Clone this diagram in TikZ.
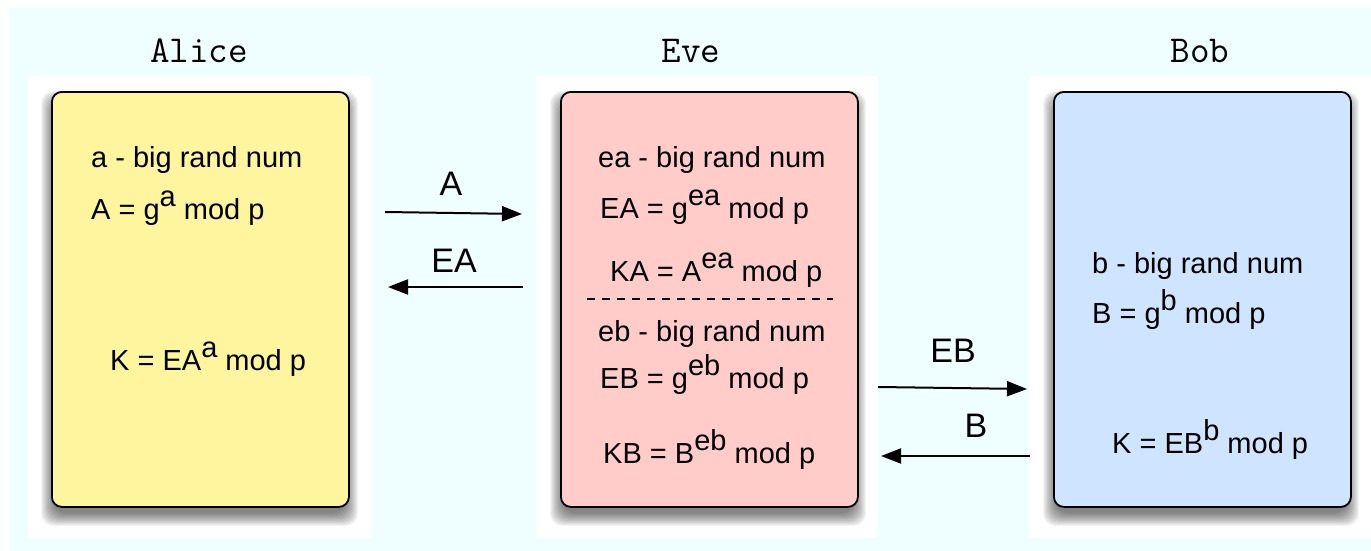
\documentclass[tikz,border=0pt]{standalone}
\usepackage{fontspec}
\setmainfont{Liberation Sans}
\usetikzlibrary{arrows.meta}
\definecolor{bgcyan}{HTML}{EFFFFF}
\definecolor{alicey}{HTML}{FEF59E}
\definecolor{evep}{HTML}{FFCCCA}
\definecolor{bobb}{HTML}{CFE4FE}
\newcommand\ex[1]{\raisebox{13pt}{#1}}
\newcommand\boxshadow[4]{%
  \foreach \e in {1,...,14}{%
    \fill[black, opacity=0.045, rounded corners=12pt]
      ({#1+4-\e},{#2+14-\e}) rectangle ({#3-4+\e},{#4+6+\e});
  }%
}
\begin{document}
\begin{tikzpicture}[x=1pt,y=-1pt,
  party/.style={draw=black, line width=1.8pt, rounded corners=10pt,
    minimum width=297pt, minimum height=415pt, anchor=north west, inner sep=0pt},
  title/.style={font=\ttfamily\fontsize{38}{42}\selectfont, anchor=base, inner sep=0pt},
  txt/.style={font=\fontsize{29}{34}\selectfont, anchor=base west, inner sep=0pt},
  lbl/.style={font=\fontsize{34}{40}\selectfont, anchor=base, inner sep=0pt},
  msg/.style={line width=2pt, -{Triangle[length=20pt,width=15pt]}},
  split/.style={line width=1.6pt, dash pattern=on 8pt off 7pt},
]
\useasboundingbox (0,0) rectangle (1371,551);
\fill[white] (0,0) rectangle (1371,551);
\fill[bgcyan] (9,8) rectangle (1371,551);
\fill[white] (28,76) rectangle (371,538);
\fill[white] (536,76) rectangle (878,538);
\fill[white] (1029,76) rectangle (1371,538);

\boxshadow{51}{91}{348}{506}
\boxshadow{560}{91}{856}{506}
\boxshadow{1053}{91}{1349}{506}

\node[party, fill=alicey] (alice) at (51,91) {};
\node[party, fill=evep] (eve) at (560,91) {};
\node[party, fill=bobb] (bob) at (1053,91) {};

\node[title] (talice) at (199,63) {Alice};
\node[title] (teve) at (691,63) {Eve};
\node[title] (tbob) at (1200,63) {Bob};

% Alice
\node[txt] (a1) at (91,167) {a - big rand num};
\node[txt] (a2) at (91,219) {A = g\ex{a} mod p};
\node[txt] (a3) at (110,370) {K = EA\ex{a} mod p};

% Eve
\node[txt] (e1) at (598,167) {ea - big rand num};
\node[txt] (e2) at (600,218) {EA = g\ex{ea} mod p};
\node[txt] (e3) at (610,281) {KA = A\ex{ea} mod p};
\coordinate (d1) at (587,299);
\coordinate (d2) at (833,299);
\draw[split] (d1) -- (d2);
\node[txt] (e4) at (598,341) {eb - big rand num};
\node[txt] (e5) at (600,388) {EB = g\ex{eb} mod p};
\node[txt] (e6) at (603,463) {KB = B\ex{eb} mod p};

% Bob
\node[txt] (b1) at (1092,273) {b - big rand num};
\node[txt] (b2) at (1092,323) {B = g\ex{b} mod p};
\node[txt] (b3) at (1112,453) {K = EB\ex{b} mod p};

% messages
\coordinate (m1s) at (385,212);
\coordinate (m1e) at (522,214);
\node[lbl] (lA) at (451,195) {A};
\draw[msg] (m1s) -- (m1e);

\coordinate (m2s) at (523,287);
\coordinate (m2e) at (388,287);
\node[lbl] (lEA) at (454,272) {EA};
\draw[msg] (m2s) -- (m2e);

\coordinate (m3s) at (878,387);
\coordinate (m3e) at (1027,389);
\node[lbl] (lEB) at (953,362) {EB};
\draw[msg] (m3s) -- (m3e);

\coordinate (m4s) at (1030,456);
\coordinate (m4e) at (881,456);
\node[lbl] (lB) at (976,437) {B};
\draw[msg] (m4s) -- (m4e);
\end{tikzpicture}
\end{document}
